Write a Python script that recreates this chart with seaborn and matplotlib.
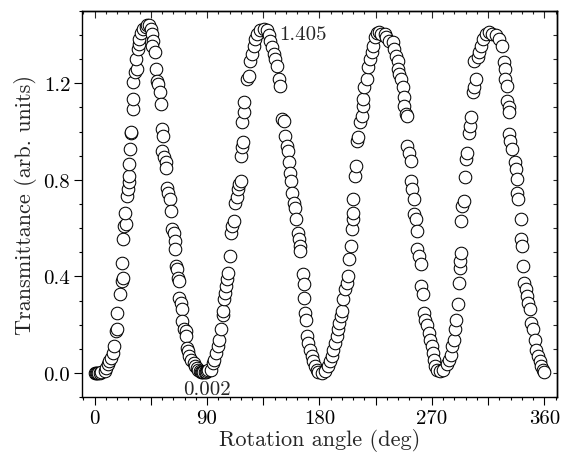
import seaborn as sns
import matplotlib.pyplot as plt
import pandas as pd
from matplotlib.ticker import MultipleLocator, FuncFormatter

# (rotation angle in deg, transmittance), one list per lobe
lobe1 = [(0, 0), (1, 0), (2, 0), (3, 0.001), (4, 0), (5, 0.002), (8, 0.007), (9.3, 0.02),
         (10.6, 0.035), (11.9, 0.048), (13.2, 0.062), (14.5, 0.083), (15.9, 0.11), (17.2, 0.173),
         (17.7, 0.18), (17.7, 0.25), (20.4, 0.325), (22, 0.38), (23, 0.395), (22, 0.457),
         (23, 0.554), (23.8, 0.61), (25, 0.616), (24.6, 0.664), (26, 0.733), (26.5, 0.76),
         (27.8, 0.79), (27.8, 0.817), (27.8, 0.865), (28.3, 0.927), (29.1, 0.996), (29.1, 1.0),
         (30.4, 1.093), (31, 1.135), (31, 1.204), (32.5, 1.245), (33.6, 1.26), (33, 1.30),
         (34.4, 1.343), (35.7, 1.363), (35.7, 1.384), (37, 1.41), (38.4, 1.425), (41, 1.432),
         (42.3, 1.44), (43.7, 1.44), (45, 1.425), (46.3, 1.405), (46.8, 1.377), (46.3, 1.356),
         (48.4, 1.329), (49.5, 1.26), (50.3, 1.21), (51, 1.197), (52, 1.163), (52.9, 1.114),
         (54.2, 1.01), (54.8, 0.983), (54.2, 0.92), (55.6, 0.893), (56.9, 0.872), (57.4, 0.851),
         (58.2, 0.768), (59, 0.747), (60, 0.72), (60.8, 0.67), (62.2, 0.595), (63.5, 0.581),
         (64.3, 0.547), (64.3, 0.512), (65.3, 0.443), (66.1, 0.429), (66.9, 0.394), (67.5, 0.38),
         (67.5, 0.311), (68.8, 0.29), (69.6, 0.263), (70.1, 0.215), (71.4, 0.18), (72.8, 0.173),
         (73.3, 0.152), (74, 0.104), (74.9, 0.09), (75.9, 0.07), (77.5, 0.055), (79.4, 0.042),
         (80.7, 0.028), (82, 0.02)]

lobe2 = [(83, 0.012), (84, 0.008), (85, 0.005), (86, 0.003), (87, 0.002), (88, 0.003),
         (89, 0.005), (90, 0.008), (91, 0.012), (93.2, 0.014), (94.5, 0.042), (95.8, 0.055),
         (97.1, 0.083), (99, 0.11), (99.8, 0.138), (101, 0.18), (102.4, 0.242), (102.4, 0.256),
         (103.8, 0.305), (104.6, 0.332), (105, 0.36), (105.9, 0.388), (106.4, 0.415),
         (108.5, 0.484), (109, 0.58), (110.3, 0.609), (111.6, 0.63), (112.4, 0.706),
         (113.7, 0.727), (114.7, 0.761), (115.5, 0.782), (116.8, 0.796), (117.3, 0.9),
         (118.1, 0.934), (118.9, 0.955), (118.1, 1.038), (119.4, 1.08), (119.4, 1.121),
         (122, 1.218), (123.4, 1.232), (124.7, 1.294), (126, 1.322), (127.3, 1.356),
         (128.6, 1.384), (130, 1.405), (132.6, 1.419), (135.3, 1.426), (137.9, 1.419),
         (139.3, 1.398), (140.6, 1.377), (142, 1.35), (143.3, 1.322), (144.6, 1.3), (146, 1.273),
         (147.3, 1.218), (148.6, 1.19), (150, 1.052), (151.3, 1.045), (152.6, 0.983),
         (154, 0.941), (154.5, 0.92), (155.3, 0.872), (156, 0.83), (157.2, 0.796), (158, 0.747),
         (159.3, 0.706), (160.6, 0.685), (161.4, 0.637), (162.5, 0.58), (163.3, 0.554),
         (164, 0.526), (164.6, 0.505), (166.7, 0.408), (167.2, 0.367), (167.2, 0.311),
         (168.5, 0.249), (169.3, 0.221), (169.8, 0.152), (171.2, 0.125), (172.5, 0.097),
         (173.8, 0.069), (175.2, 0.048), (176.5, 0.028), (177.8, 0.014), (179.2, 0.003),
         (181.8, 0.0)]

lobe3 = [(184.5, 0.007), (187.1, 0.028), (188.5, 0.048), (189.8, 0.069), (191.1, 0.097),
         (192.4, 0.125), (193.8, 0.152), (195.1, 0.18), (195.9, 0.208), (197, 0.235),
         (197.8, 0.256), (199.1, 0.305), (200.4, 0.346), (201.8, 0.374), (203.1, 0.401),
         (203.9, 0.471), (205, 0.526), (205.8, 0.595), (206.6, 0.637), (207.1, 0.664),
         (207.1, 0.72), (208.5, 0.817), (209.3, 0.858), (209.8, 0.962), (211.2, 0.976),
         (212.5, 1.038), (213.8, 1.066), (214.6, 1.107), (215.2, 1.135), (215.7, 1.183),
         (217.8, 1.218), (219.1, 1.266), (220.5, 1.3), (221.8, 1.329), (223.1, 1.356),
         (224.4, 1.39), (225.8, 1.41), (227.5, 1.412), (229.5, 1.405), (232.1, 1.405),
         (233.4, 1.39), (236, 1.377), (238.7, 1.37), (240, 1.343), (241.3, 1.315),
         (242.6, 1.294), (242.6, 1.26), (243.9, 1.239), (245.2, 1.218), (246.5, 1.183),
         (247.3, 1.142), (247.8, 1.107), (249.1, 1.073), (250.4, 1.066), (250.4, 0.941),
         (251.7, 0.913), (253, 0.879), (253, 0.796), (254.3, 0.761), (255.6, 0.72),
         (255.6, 0.657), (256.9, 0.637), (257.7, 0.588), (258.3, 0.512), (259.6, 0.484),
         (260.9, 0.45), (261.4, 0.36), (263, 0.325), (263.5, 0.249), (264.8, 0.221),
         (266.1, 0.2), (267.4, 0.166), (268.7, 0.138), (270, 0.11), (270.8, 0.083),
         (271.8, 0.055), (272.6, 0.028), (274.4, 0.014), (276.5, 0.007)]

lobe4 = [(279.1, 0.014), (281.7, 0.035), (283.8, 0.055), (284.9, 0.076), (286.4, 0.11),
         (287.5, 0.138), (288.3, 0.18), (289.6, 0.221), (290.9, 0.284), (291.7, 0.374),
         (292.2, 0.436), (292.7, 0.464), (293.5, 0.498), (293.5, 0.63), (294.3, 0.692),
         (295.3, 0.713), (296.1, 0.81), (297.4, 0.886), (297.9, 0.913), (299.5, 0.996),
         (300.5, 1.024), (301.3, 1.059), (302.6, 1.163), (303.9, 1.183), (305.2, 1.218),
         (303.9, 1.294), (306.6, 1.308), (307.9, 1.329), (309.2, 1.356), (310.5, 1.384),
         (313.1, 1.405), (315.7, 1.412), (318.3, 1.405), (320.9, 1.398), (323.5, 1.384),
         (326.1, 1.356), (327.4, 1.287), (328.7, 1.26), (328.7, 1.218), (330.1, 1.19),
         (330.1, 1.128), (331.4, 1.1), (331.4, 1.08), (331.4, 0.99), (332.7, 0.962),
         (334, 0.927), (336.1, 0.872), (337.1, 0.844), (337.9, 0.803), (337.9, 0.747),
         (339.2, 0.72), (341.3, 0.637), (341.3, 0.554), (342.3, 0.526), (343.1, 0.443),
         (343.9, 0.374), (344.9, 0.346), (345.7, 0.318), (347, 0.29), (348.3, 0.263),
         (349.6, 0.208), (350.9, 0.18), (352.2, 0.138), (353.6, 0.097), (354.9, 0.069),
         (356.2, 0.048), (357.5, 0.028), (358.8, 0.014), (359.6, 0.003)]

peak_label = "1.405"
min_label = "0.002"

df = pd.DataFrame(lobe1 + lobe2 + lobe3 + lobe4, columns=['angle', 'T'])

sns.set_style("ticks")
plt.rcParams['font.family'] = 'serif'
plt.rcParams['font.serif'] = ['cmr10']
plt.rcParams['mathtext.fontset'] = 'cm'
plt.rcParams['axes.formatter.use_mathtext'] = True
plt.rcParams['axes.edgecolor'] = 'black'
plt.rcParams['axes.linewidth'] = 1

fig = plt.figure(figsize=(5.62, 4.56), dpi=100)
ax = fig.add_axes([0.146, 0.127, 0.845, 0.847])

sns.scatterplot(x='angle', y='T', data=df, s=82, color='white', edgecolor='black',
                linewidth=0.75, legend=False, ax=ax, zorder=3)

ax.set_xlim(-10, 370)
ax.set_ylim(-0.1, 1.5)
ax.xaxis.set_major_locator(MultipleLocator(45))
ax.xaxis.set_minor_locator(MultipleLocator(9))
ax.xaxis.set_major_formatter(FuncFormatter(lambda v, p: '%d' % v if v % 90 == 0 else ''))
ax.yaxis.set_major_locator(MultipleLocator(0.4))
ax.yaxis.set_minor_locator(MultipleLocator(0.1))
ax.yaxis.set_major_formatter(FuncFormatter(lambda v, p: '%.1f' % v))
ax.tick_params(which='both', direction='out', labelsize=15, width=0.8, colors='black', pad=3)
ax.tick_params(which='major', length=5.5)
ax.tick_params(which='minor', length=2.5)

top = ax.secondary_xaxis('top')
top.xaxis.set_major_locator(MultipleLocator(45))
top.xaxis.set_minor_locator(MultipleLocator(9))
top.tick_params(which='both', direction='in', labeltop=False, width=0.8)
top.tick_params(which='major', length=5)
top.tick_params(which='minor', length=2.5)
right = ax.secondary_yaxis('right')
right.yaxis.set_major_locator(MultipleLocator(0.1))
right.tick_params(which='both', direction='in', labelright=False, width=0.8, length=3)

ax.text(148, 1.405, peak_label, ha='left', va='center', fontsize=15)
ax.text(71.2, -0.067, min_label, ha='left', va='center', fontsize=15)

ax.set_xlabel('Rotation angle (deg)', fontsize=16, labelpad=1)
ax.set_ylabel('Transmittance (arb. units)', fontsize=16, labelpad=5)

plt.savefig('out.png', dpi=100)
